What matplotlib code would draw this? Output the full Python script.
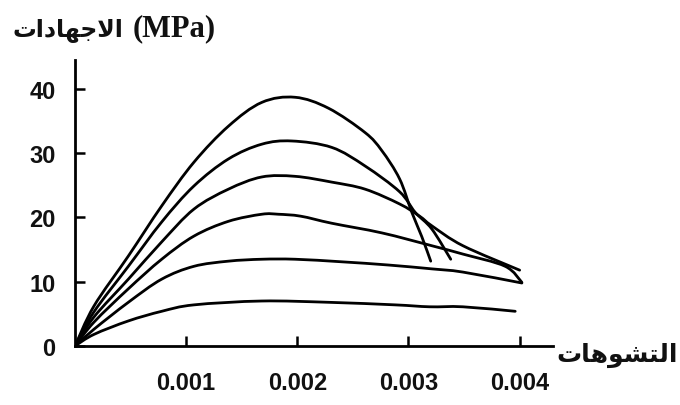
import matplotlib
matplotlib.use("Agg")
import matplotlib.pyplot as plt
from matplotlib.path import Path
from matplotlib.patches import PathPatch

# strain values in units of 0.001, stress in MPa
c1_strain = [0, 0.17, 0.48, 0.78, 1.07, 1.38, 1.68, 1.98, 2.28, 2.61, 2.76, 2.92, 3.03, 3.12, 3.20]
c1_stress = [0, 6.2, 14.0, 21.8, 28.6, 34.2, 37.9, 38.7, 37.0, 33.2, 30.4, 26.0, 20.8, 17.0, 13.2]

c2_strain = [0, 0.17, 0.48, 0.78, 1.07, 1.38, 1.68, 1.95, 2.31, 2.61, 2.92, 3.06, 3.21, 3.38]
c2_stress = [0, 5.3, 12.4, 19.3, 24.9, 29.1, 31.4, 31.9, 30.9, 28.0, 24.0, 20.8, 18.2, 13.5]

c3_strain = [0, 0.17, 0.48, 0.78, 1.07, 1.38, 1.68, 1.98, 2.31, 2.61, 2.92, 3.10, 3.21, 3.49, 4.0]
c3_stress = [0, 4.5, 10.4, 16.2, 21.3, 24.4, 26.3, 26.4, 25.5, 24.4, 22.1, 20.2, 18.7, 15.6, 11.8]

c4_strain = [0, 0.17, 0.48, 0.78, 1.07, 1.38, 1.68, 1.83, 2.03, 2.31, 2.76, 3.21, 3.49, 3.87, 4.02]
c4_stress = [0, 3.7, 8.9, 13.5, 17.1, 19.4, 20.5, 20.5, 20.2, 19.1, 17.6, 15.6, 14.3, 12.4, 9.9]

c5_strain = [0, 0.17, 0.48, 0.78, 1.07, 1.38, 1.68, 1.98, 2.40, 2.82, 3.21, 3.49, 4.02]
c5_stress = [0, 2.6, 6.8, 10.4, 12.4, 13.2, 13.5, 13.5, 13.1, 12.6, 12.0, 11.5, 9.8]

c6_strain = [0, 0.17, 0.48, 0.78, 1.07, 1.68, 2.28, 2.88, 3.19, 3.49, 3.96]
c6_stress = [0, 1.8, 3.9, 5.4, 6.4, 7.0, 6.8, 6.4, 6.1, 6.1, 5.4]

curves = [(c1_strain, c1_stress), (c2_strain, c2_stress), (c3_strain, c3_stress),
          (c4_strain, c4_stress), (c5_strain, c5_stress), (c6_strain, c6_stress)]

x_ticks = [0.001, 0.002, 0.003, 0.004]
x_tick_labels = ["0.001", "0.002", "0.003", "0.004"]
y_ticks = [0, 10, 20, 30, 40]
y_tick_labels = ["0", "10", "20", "30", "40"]

# Arabic labels (pre-shaped presentation forms in visual order)
y_title_ar = "\uFE95\uFE8D\uFEA9\uFE8E\uFEEC\uFE9F\uFEFB\uFE8D"   # الاجهادات
y_title_unit = "(MPa)"
x_title = "\uFE95\uFE8E\uFEEB\uFEEE\uFEB8\uFE98\uFEDF\uFE8D"      # التشوهات


def smooth_path(xs, ys):
    pts = list(zip(xs, ys))
    n = len(pts)
    verts = [pts[0]]
    codes = [Path.MOVETO]
    for i in range(n - 1):
        p0 = pts[i - 1] if i > 0 else pts[i]
        p1 = pts[i]
        p2 = pts[i + 1]
        p3 = pts[i + 2] if i + 2 < n else pts[i + 1]
        c1 = (p1[0] + (p2[0] - p0[0]) / 6, p1[1] + (p2[1] - p0[1]) / 6)
        c2 = (p2[0] - (p3[0] - p1[0]) / 6, p2[1] - (p3[1] - p1[1]) / 6)
        verts += [c1, c2, p2]
        codes += [Path.CURVE4] * 3
    return Path(verts, codes)


W, H = 680, 406
fig = plt.figure(figsize=(W / 100, H / 100), dpi=100)
ax = fig.add_axes([75 / W, (H - 347) / H, (553 - 75) / W, (347 - 61) / H])

for s, f in curves:
    xs = [v * 0.001 for v in s]
    ax.add_patch(PathPatch(smooth_path(xs, f), facecolor="none", edgecolor="black",
                           lw=2.0, joinstyle="round", capstyle="round"))

ax.set_xlim(0, 0.0043)
ax.set_ylim(0, 44.5)
for sp in ["top", "right"]:
    ax.spines[sp].set_visible(False)
for sp in ["left", "bottom"]:
    ax.spines[sp].set_linewidth(2.0)
    ax.spines[sp].set_color("black")

ax.set_xticks(x_ticks)
ax.set_xticklabels(x_tick_labels)
ax.set_yticks(y_ticks)
ax.set_yticklabels(y_tick_labels)
ax.tick_params(axis="both", direction="in", length=7, width=1.8, colors="black",
               labelsize=17, labelcolor="#111111")
ax.tick_params(axis="y", pad=14)
ax.tick_params(axis="x", pad=18)
for lab in ax.get_xticklabels() + ax.get_yticklabels():
    lab.set_fontfamily("Liberation Sans")
    lab.set_fontweight("bold")

fig.text(12 / W, 1 - 30 / H, y_title_ar, fontsize=17, fontweight="bold",
         family=["DejaVu Sans"], ha="left", va="center", color="#111111")
fig.text(133 / W, 1 - 29 / H, y_title_unit, fontsize=22, fontweight="bold",
         family=["Liberation Serif"], ha="left", va="center", color="#111111")
fig.text(556 / W, 1 - 355 / H, x_title, fontsize=18, fontweight="bold",
         family=["DejaVu Sans"], ha="left", va="center", color="#111111")

fig.savefig("out.png", dpi=100, facecolor="white")
